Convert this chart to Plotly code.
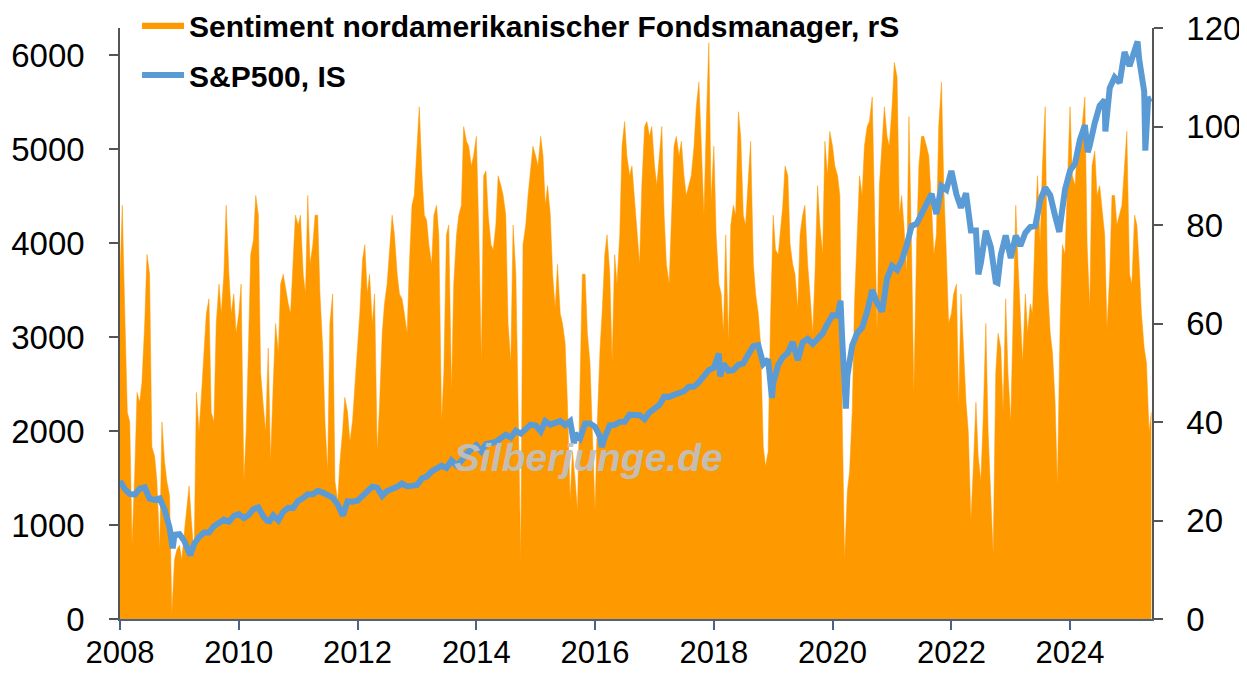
import pandas as pd
import plotly.graph_objects as go

# ---------------- Sentiment (right axis), semi-monthly readings ----------------
sent_2008 = [70, 84, 60, 42, 40, 15, 30, 46, 44, 48, 60, 74, 70, 35, 33, 28, 14, 40, 32, 28, 25, 1, 12, 14]
sent_2009 = [15, 12, 18, 22, 27, 20, 13, 46, 38, 45, 55, 62, 65, 42, 40, 60, 68, 62, 70, 84, 70, 62, 66, 58]
sent_2010 = [62, 68, 28, 38, 55, 74, 77, 86, 82, 50, 43, 38, 55, 32, 48, 60, 54, 68, 70, 67, 64, 62, 72, 82]
sent_2011 = [80, 82, 70, 66, 86, 72, 76, 82, 82, 66, 55, 40, 30, 60, 66, 28, 24, 32, 38, 45, 42, 36, 40, 47]
sent_2012 = [54, 62, 73, 76, 66, 70, 60, 66, 34, 43, 58, 64, 68, 74, 82, 78, 70, 66, 65, 62, 58, 72, 84, 86]
sent_2013 = [95, 104, 90, 82, 81, 76, 72, 82, 84, 78, 40, 50, 78, 80, 46, 68, 78, 82, 84, 100, 97, 96, 92, 94]
sent_2014 = [98, 80, 52, 90, 91, 82, 76, 75, 80, 90, 88, 86, 82, 60, 52, 80, 70, 44, 12, 76, 80, 86, 92, 96]
sent_2015 = [94, 92, 98, 94, 84, 88, 82, 70, 63, 72, 62, 60, 56, 44, 24, 34, 28, 22, 48, 70, 70, 58, 52, 40]
sent_2016 = [22, 40, 55, 63, 74, 78, 70, 52, 74, 68, 78, 96, 101, 94, 90, 92, 85, 80, 72, 88, 100, 101, 98, 100]
sent_2017 = [92, 88, 95, 100, 82, 72, 68, 80, 96, 98, 94, 97, 90, 86, 88, 90, 96, 104, 109, 96, 82, 100, 117, 85]
sent_2018 = [96, 78, 68, 66, 58, 78, 56, 80, 84, 82, 103, 98, 82, 80, 90, 97, 72, 66, 62, 56, 35, 31, 34, 60]
sent_2019 = [82, 75, 74, 80, 84, 92, 90, 76, 72, 70, 63, 78, 82, 84, 72, 66, 58, 70, 88, 80, 74, 97, 90, 99]
sent_2020 = [96, 92, 90, 86, 40, 12, 26, 30, 42, 64, 80, 90, 86, 96, 100, 101, 106, 80, 58, 88, 96, 104, 98, 96]
sent_2021 = [104, 113, 110, 82, 86, 80, 70, 102, 75, 46, 76, 92, 98, 98, 96, 94, 84, 74, 78, 100, 109, 88, 74, 60]
sent_2022 = [62, 66, 68, 43, 66, 55, 44, 38, 20, 30, 44, 33, 28, 40, 60, 38, 24, 13, 50, 58, 55, 42, 65, 50]
sent_2023 = [40, 60, 84, 72, 60, 52, 66, 58, 64, 62, 80, 90, 76, 92, 104, 68, 58, 54, 44, 27, 60, 76, 74, 86]
sent_2024 = [104, 90, 88, 96, 98, 100, 106, 76, 63, 92, 95, 86, 88, 84, 78, 59, 70, 86, 86, 80, 82, 84, 92, 99]
sent_2025 = [70, 68, 82, 80, 72, 62, 55, 52, 38, 42]

sentiment = (sent_2008 + sent_2009 + sent_2010 + sent_2011 + sent_2012 + sent_2013
             + sent_2014 + sent_2015 + sent_2016 + sent_2017 + sent_2018 + sent_2019
             + sent_2020 + sent_2021 + sent_2022 + sent_2023 + sent_2024 + sent_2025)
sent_dates = pd.date_range("2008-01-01", periods=len(sentiment), freq="SMS")

# ---------------- S&P 500 (left axis), month-start readings ----------------
sp_2008 = [1468, 1378, 1330, 1323, 1386, 1400, 1280, 1267, 1283, 1166, 969, 896]
sp_2009 = [903, 826, 735, 798, 873, 919, 919, 987, 1021, 1057, 1036, 1096]
sp_2010 = [1115, 1074, 1104, 1169, 1187, 1089, 1031, 1102, 1049, 1141, 1183, 1181]
sp_2011 = [1258, 1286, 1327, 1326, 1364, 1345, 1321, 1292, 1219, 1131, 1253, 1247]
sp_2012 = [1258, 1312, 1366, 1408, 1398, 1310, 1362, 1379, 1407, 1441, 1412, 1416]
sp_2013 = [1426, 1498, 1515, 1569, 1598, 1631, 1606, 1686, 1633, 1682, 1757, 1806]
sp_2014 = [1848, 1783, 1859, 1872, 1884, 1924, 1960, 1931, 2003, 1972, 2018, 2068]
sp_2015 = [2059, 1995, 2105, 2068, 2086, 2107, 2063, 2104, 1972, 1920, 2079, 2080]
sp_2016 = [2044, 1940, 1932, 2060, 2065, 2097, 2099, 2174, 2171, 2168, 2126, 2199]
sp_2017 = [2239, 2279, 2364, 2363, 2384, 2412, 2423, 2470, 2472, 2519, 2575, 2648]
sp_2018 = [2674, 2824, 2714, 2641, 2648, 2705, 2718, 2816, 2902, 2914, 2712, 2760]
sp_2019 = [2507, 2704, 2784, 2834, 2946, 2752, 2942, 2980, 2926, 2977, 3038, 3141]
sp_2020 = [3231, 3226, 2954, 2585, 2912, 3044, 3100, 3271, 3500, 3363, 3270, 3622]
sp_2021 = [3756, 3714, 3811, 3973, 4181, 4204, 4298, 4395, 4523, 4308, 4605, 4567]
sp_2022 = [4766, 4516, 4374, 4530, 4132, 4132, 3785, 4130, 3955, 3586, 3872, 4080]
sp_2023 = [3840, 4077, 3970, 4109, 4169, 4180, 4450, 4589, 4508, 4288, 4194, 4568]
sp_2024 = [4770, 4846, 5096, 5254, 5036, 5278, 5460, 5522, 5648, 5762, 5705, 6032]
sp_2025 = [5882, 6041, 5955, 5612]

sp_monthly = (sp_2008 + sp_2009 + sp_2010 + sp_2011 + sp_2012 + sp_2013 + sp_2014
              + sp_2015 + sp_2016 + sp_2017 + sp_2018 + sp_2019 + sp_2020 + sp_2021
              + sp_2022 + sp_2023 + sp_2024 + sp_2025)
sp_month_dates = pd.date_range("2008-01-01", periods=len(sp_monthly), freq="MS")

# intra-month extremes visible in the chart
sp_extra_dates = ["2008-11-20", "2009-03-09", "2010-07-02", "2011-10-03", "2015-08-25",
                  "2016-02-11", "2018-02-08", "2018-12-24", "2020-02-19", "2020-03-23",
                  "2022-06-16", "2022-10-12", "2023-10-27", "2024-04-19", "2024-08-05",
                  "2025-02-19", "2025-04-08", "2025-04-25", "2025-05-15"]
sp_extra_values = [752, 677, 1022, 1099, 1867, 1829, 2581, 2351, 3386, 2237,
                   3667, 3577, 4117, 4967, 5186, 6144, 4982, 5525, 5540]

sp = pd.concat([
    pd.Series(sp_monthly, index=sp_month_dates),
    pd.Series(sp_extra_values, index=pd.to_datetime(sp_extra_dates)),
]).sort_index()

# ---------------- Labels ----------------
name_sent = "Sentiment nordamerikanischer Fondsmanager, rS"
name_sp = "S&P500, IS"
watermark = "Silberjunge.de"
left_ticks = [0, 1000, 2000, 3000, 4000, 5000, 6000]
right_ticks = [0, 20, 40, 60, 80, 100, 120]
x_ticks = ["2008", "2010", "2012", "2014", "2016", "2018", "2020", "2022", "2024"]

ORANGE = "#FF9900"
BLUE = "#5B9BD5"
FONT = "Liberation Sans, Arial, sans-serif"

fig = go.Figure()
fig.add_trace(go.Scatter(
    x=sent_dates, y=sentiment, name=name_sent, mode="lines",
    fill="tozeroy", fillcolor=ORANGE, line=dict(color=ORANGE, width=0.5),
    yaxis="y", legendgroup="a",
))
fig.add_trace(go.Scatter(
    x=sp.index, y=sp.values, name=name_sp, mode="lines",
    line=dict(color=BLUE, width=6), yaxis="y2", legendgroup="b",
))

# page body adds an 8px offset, so the figure is 8px smaller than the window
fig.update_layout(
    width=1239, height=665,
    margin=dict(l=112, r=95, t=20, b=54, autoexpand=False),
    paper_bgcolor="white", plot_bgcolor="white",
    font=dict(family=FONT, size=33, color="black"),
    showlegend=True,
    legend=dict(
        x=0.0165, y=1.049, xref="paper", yref="paper",
        xanchor="left", yanchor="top",
        font=dict(family=FONT, size=30, color="black", weight="bold"),
        bgcolor="rgba(0,0,0,0)", traceorder="grouped", tracegroupgap=8,
        itemwidth=42,
    ),
    xaxis=dict(
        type="date", range=["2008-01-01", "2025-05-19"],
        tickvals=[f"{t}-01-01" for t in x_ticks], ticktext=x_ticks,
        showgrid=False, zeroline=False, automargin=False,
        showline=True, linecolor="#4A6288", linewidth=1.5,
        ticks="outside", ticklen=9, tickwidth=1.5, tickcolor="#4A6288",
        tickfont=dict(size=31), ticklabelstandoff=-4,
    ),
    yaxis=dict(
        side="right", range=[0, 120], tickvals=right_ticks,
        showgrid=False, zeroline=False, automargin=False,
        showline=True, linecolor="#555555", linewidth=1.5,
        ticks="outside", ticklen=9, tickwidth=1.5, tickcolor="#555555",
        tickfont=dict(size=33), ticklabelstandoff=17,
    ),
    yaxis2=dict(
        overlaying="y", side="left", range=[0, 6287], tickvals=left_ticks,
        showgrid=False, zeroline=False, automargin=False,
        showline=True, linecolor="#555555", linewidth=1.5,
        ticks="outside", ticklen=9, tickwidth=1.5, tickcolor="#555555",
        tickfont=dict(size=33), ticklabelstandoff=18,
    ),
    annotations=[dict(
        text=watermark, x=0.4535, y=0.274, xref="paper", yref="paper",
        showarrow=False, xanchor="center", yanchor="middle",
        font=dict(family=FONT, size=39, color="rgba(192,192,192,0.95)",
                  weight="bold", style="italic"),
    )],
)

fig.write_html("out.html")
